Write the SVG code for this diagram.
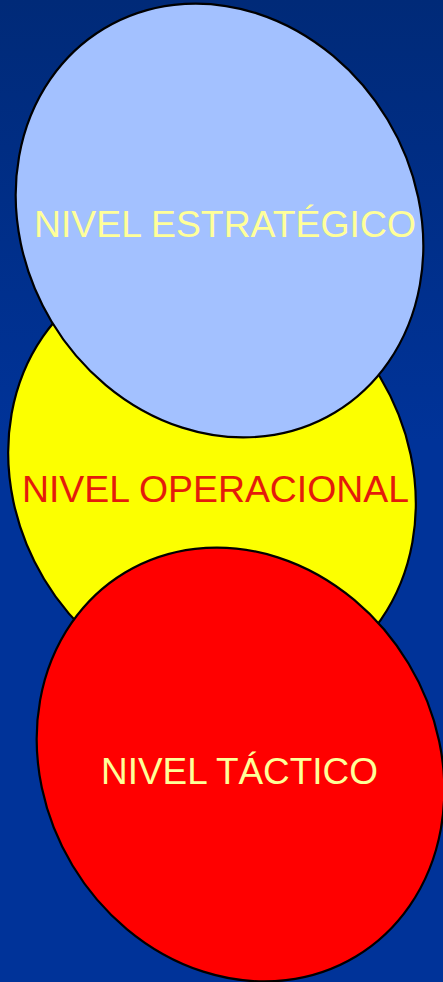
<svg xmlns="http://www.w3.org/2000/svg" width="443" height="982" viewBox="0 0 443 982">
<defs>
<linearGradient id="bg" x1="0" y1="0" x2="0" y2="1">
<stop offset="0" stop-color="#002A78"/>
<stop offset="0.45" stop-color="#003399"/>
<stop offset="1" stop-color="#003399"/>
</linearGradient>
</defs>
<style>
.el{stroke:#000;stroke-width:2.2}
.t{font-family:"Liberation Sans",Arial,sans-serif;font-size:37.5px;text-anchor:middle}
</style>
<rect width="443" height="982" fill="url(#bg)"/>
<g id="operacional">
<ellipse class="el" cx="0" cy="0" rx="196" ry="224" fill="#FCFF00" transform="translate(212,478) rotate(-31)"/>
<text class="t" x="215.5" y="502" fill="#E41B0B" textLength="387" lengthAdjust="spacingAndGlyphs">NIVEL OPERACIONAL</text>
</g>
<g id="estrategico">
<ellipse class="el" cx="0" cy="0" rx="196" ry="224" fill="#A3C1FF" transform="translate(219.5,220.5) rotate(-31)"/>
<text class="t" x="225" y="237" fill="#FFFF99" textLength="382" lengthAdjust="spacingAndGlyphs">NIVEL ESTRATÉGICO</text>
</g>
<g id="tactico">
<ellipse class="el" cx="0" cy="0" rx="196" ry="224" fill="#FF0000" transform="translate(240.5,764.5) rotate(-31)"/>
<text class="t" x="239.5" y="784" fill="#FFFF99" textLength="277" lengthAdjust="spacingAndGlyphs">NIVEL TÁCTICO</text>
</g>
<g id="connectors"/>
</svg>
